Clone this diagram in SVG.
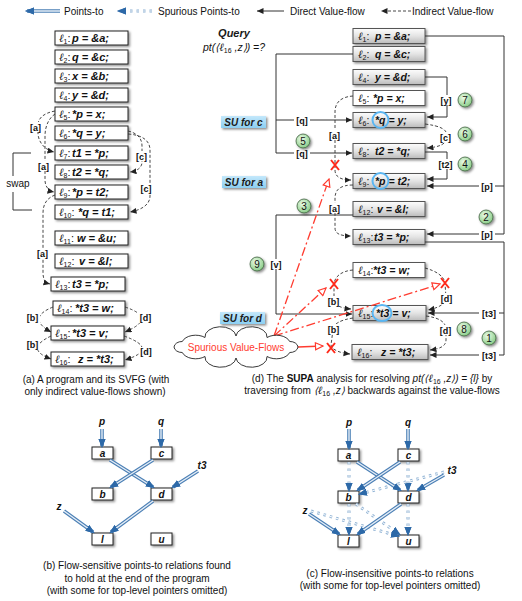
<svg xmlns="http://www.w3.org/2000/svg" width="522" height="601" viewBox="0 0 522 601">
<defs>
<filter id="sh" x="-20%" y="-40%" width="150%" height="200%"><feDropShadow dx="1.5" dy="1.5" stdDeviation="1" flood-color="#000" flood-opacity="0.45"/></filter>
<linearGradient id="gg" x1="0" y1="0" x2="0" y2="1"><stop offset="0" stop-color="#fdfdfd"/><stop offset="0.5" stop-color="#e4e4e4"/><stop offset="1" stop-color="#bcbcbc"/></linearGradient>
<radialGradient id="gc" cx="0.4" cy="0.35" r="0.7"><stop offset="0" stop-color="#ecfbe8"/><stop offset="1" stop-color="#84ca82"/></radialGradient>
<linearGradient id="bl" x1="0" y1="0" x2="0" y2="1"><stop offset="0" stop-color="#c4e8fb"/><stop offset="1" stop-color="#8ccff2"/></linearGradient>
<marker id="ah" markerUnits="userSpaceOnUse" markerWidth="8" markerHeight="7" refX="6.5" refY="3" orient="auto"><path d="M0,0 L6.5,3 L0,6 z" fill="#222"/></marker>
<marker id="pa" markerUnits="userSpaceOnUse" markerWidth="10" markerHeight="8" refX="7" refY="4" orient="auto"><path d="M0,0.5 L9,4 L0,7.5 z" fill="#2d69a8"/></marker>
<marker id="ra" markerUnits="userSpaceOnUse" markerWidth="10" markerHeight="9" refX="8.5" refY="4.5" orient="auto"><path d="M1,1 L8.5,4.5 L1,8 z" fill="#fff" stroke="#ff3b2f" stroke-width="1.2"/></marker>
<style>
.bx{fill:#fff;stroke:#222;stroke-width:1;filter:url(#sh)}
.gb{fill:url(#gg);stroke:#555;stroke-width:1;filter:url(#sh)}
.wb{fill:#fff;stroke:#555;stroke-width:1;filter:url(#sh)}
.c{font-family:"Liberation Sans",Arial,sans-serif;font-weight:bold;font-style:italic;font-size:10.5px;fill:#111}
.ca{font-size:11px}
.e{font-family:"Liberation Serif","DejaVu Serif",serif;font-weight:normal;font-style:italic;font-size:11px}
.s{font-family:"Liberation Sans",sans-serif;font-weight:normal;font-style:normal;font-size:7px}
.n{font-weight:normal;font-style:normal}
.lb{font-family:"Liberation Sans",Arial,sans-serif;font-weight:bold;font-size:9px;fill:#111;text-anchor:middle}
.bg{fill:#fff}
.t{font-family:"Liberation Sans",Arial,sans-serif;font-size:10px;fill:#111}
.dv{fill:none;stroke:#333;stroke-width:1;marker-end:url(#ah)}
.ln{fill:none;stroke:#333;stroke-width:1}
.iv{fill:none;stroke:#333;stroke-width:0.9;stroke-dasharray:3 2;marker-end:url(#ah)}
.po{fill:none;stroke:#4a7fb5;stroke-width:3.6;marker-end:url(#pa)}
.pi{fill:none;stroke:#e6eef7;stroke-width:1.4;marker-end:url(#pa)}
.so{fill:none;stroke:#8eb1d3;stroke-width:3;stroke-dasharray:2.5 4;marker-end:url(#pa)}
.si{fill:none;stroke:#f4f8fc;stroke-width:1.1;stroke-dasharray:2.5 4;marker-end:url(#pa)}
.rl{fill:none;stroke:#ff3b2f;stroke-width:1.3;stroke-dasharray:9 3 2 3;marker-end:url(#ra)}
.rx{fill:none;stroke:#ff2a1a;stroke-width:2}
.gcir{fill:url(#gc);stroke:#3d5e3d;stroke-width:0.8;filter:url(#sh)}
.gn{font-family:"Liberation Sans",Arial,sans-serif;font-size:10px;fill:#111;text-anchor:middle}
.hc{fill:none;stroke:#5ab6f2;stroke-width:2}
.su{fill:url(#bl);filter:url(#sh)}
.sut{font-family:"Liberation Sans",Arial,sans-serif;font-weight:bold;font-style:italic;font-size:10px;fill:#1a1a1a;text-anchor:middle}
.sb{fill:#fff;stroke:#222;stroke-width:1;filter:url(#sh)}
.st{font-family:"Liberation Sans",Arial,sans-serif;font-weight:bold;font-style:italic;font-size:10px;fill:#111;text-anchor:middle}
</style>
</defs>
<rect width="522" height="601" fill="#fff"/>

<!-- legend -->
<g id="legend">
<path class="po" d="M60,11 H27"/><path class="pi" d="M60,11 H27"/>
<text class="t" x="64" y="15">Points-to</text>
<path class="so" d="M152,11 H119"/><path class="si" d="M152,11 H119"/>
<text class="t" x="158" y="15">Spurious Points-to</text>
<path class="dv" d="M284,11 H257"/>
<text class="t" x="290" y="15">Direct Value-flow</text>
<path class="iv" d="M411,11 H381"/>
<text class="t" x="412" y="15">Indirect Value-flow</text>
</g>

<!-- panel a nodes -->
<g id="a-l1"><rect class="bx" x="55" y="31" width="73" height="14"/><text class="c ca" x="59" y="41.5"><tspan class="e">ℓ</tspan><tspan class="s" dy="2">1</tspan><tspan class="n" dy="-2">:</tspan><tspan x="72">p = &amp;a;</tspan></text></g>
<g id="a-l2"><rect class="bx" x="55" y="50" width="73" height="14"/><text class="c ca" x="59" y="60.5"><tspan class="e">ℓ</tspan><tspan class="s" dy="2">2</tspan><tspan class="n" dy="-2">:</tspan><tspan x="72">q = &amp;c;</tspan></text></g>
<g id="a-l3"><rect class="bx" x="55" y="69" width="73" height="14"/><text class="c ca" x="59" y="79.5"><tspan class="e">ℓ</tspan><tspan class="s" dy="2">3</tspan><tspan class="n" dy="-2">:</tspan><tspan x="72">x = &amp;b;</tspan></text></g>
<g id="a-l4"><rect class="bx" x="55" y="88" width="73" height="14"/><text class="c ca" x="59" y="98.5"><tspan class="e">ℓ</tspan><tspan class="s" dy="2">4</tspan><tspan class="n" dy="-2">:</tspan><tspan x="72">y = &amp;d;</tspan></text></g>
<g id="a-l5"><rect class="bx" x="55" y="107" width="73" height="14"/><text class="c ca" x="59" y="117.5"><tspan class="e">ℓ</tspan><tspan class="s" dy="2">5</tspan><tspan class="n" dy="-2">:</tspan><tspan x="72">*p = x;</tspan></text></g>
<g id="a-l6"><rect class="bx" x="55" y="126" width="73" height="14"/><text class="c ca" x="59" y="136.5"><tspan class="e">ℓ</tspan><tspan class="s" dy="2">6</tspan><tspan class="n" dy="-2">:</tspan><tspan x="72">*q = y;</tspan></text></g>
<g id="a-l7"><rect class="bx" x="55" y="146" width="73" height="14"/><text class="c ca" x="59" y="156.5"><tspan class="e">ℓ</tspan><tspan class="s" dy="2">7</tspan><tspan class="n" dy="-2">:</tspan><tspan x="72">t1 = *p;</tspan></text></g>
<g id="a-l8"><rect class="bx" x="55" y="165" width="73" height="14"/><text class="c ca" x="59" y="175.5"><tspan class="e">ℓ</tspan><tspan class="s" dy="2">8</tspan><tspan class="n" dy="-2">:</tspan><tspan x="72">t2 = *q;</tspan></text></g>
<g id="a-l9"><rect class="bx" x="55" y="185" width="73" height="14"/><text class="c ca" x="59" y="195.5"><tspan class="e">ℓ</tspan><tspan class="s" dy="2">9</tspan><tspan class="n" dy="-2">:</tspan><tspan x="72">*p = t2;</tspan></text></g>
<g id="a-l10"><rect class="bx" x="55" y="205" width="73" height="14"/><text class="c ca" x="59" y="215.5"><tspan class="e">ℓ</tspan><tspan class="s" dy="2">10</tspan><tspan class="n" dy="-2">:</tspan><tspan x="78">*q = t1;</tspan></text></g>
<g id="a-l11"><rect class="bx" x="55" y="231" width="73" height="14"/><text class="c ca" x="59" y="241.5"><tspan class="e">ℓ</tspan><tspan class="s" dy="2">11</tspan><tspan class="n" dy="-2">:</tspan><tspan x="77">w = &amp;u;</tspan></text></g>
<g id="a-l12"><rect class="bx" x="55" y="254" width="73" height="14"/><text class="c ca" x="59" y="264.5"><tspan class="e">ℓ</tspan><tspan class="s" dy="2">12</tspan><tspan class="n" dy="-2">:</tspan><tspan x="79">v = &amp;l;</tspan></text></g>
<g id="a-l13"><rect class="bx" x="51" y="277" width="74" height="14"/><text class="c ca" x="55" y="287.5"><tspan class="e">ℓ</tspan><tspan class="s" dy="2">13</tspan><tspan class="n" dy="-2">:</tspan><tspan x="72">t3 = *p;</tspan></text></g>
<g id="a-l14"><rect class="bx" x="53" y="301" width="72" height="14"/><text class="c ca" x="57" y="311.5"><tspan class="e">ℓ</tspan><tspan class="s" dy="2">14</tspan><tspan class="n" dy="-2">:</tspan><tspan x="75">*t3 = w;</tspan></text></g>
<g id="a-l15"><rect class="bx" x="51" y="326" width="73" height="14"/><text class="c ca" x="55" y="336.5"><tspan class="e">ℓ</tspan><tspan class="s" dy="2">15</tspan><tspan class="n" dy="-2">:</tspan><tspan x="72">*t3 = v;</tspan></text></g>
<g id="a-l16"><rect class="bx" x="51" y="352" width="73" height="14"/><text class="c ca" x="55" y="362.5"><tspan class="e">ℓ</tspan><tspan class="s" dy="2">16</tspan><tspan class="n" dy="-2">:</tspan><tspan x="78">z = *t3;</tspan></text></g>

<!-- panel a connectors -->
<g id="a-edges">
<path class="iv" d="M55,111 C44,113 38,118 38,125 L38,133 C38,142 45,150 54,152"/>
<path class="iv" d="M55,114 C49,118 45,126 45,136 L45,180 C45,187 49,191 54,192"/>
<path class="iv" d="M55,195 C47,198 43,204 43,213 L43,273 C43,280 46,283 50,284"/>
<path class="iv" d="M128,131 C137,133 142,138 142,146 L142,162 C142,167 138,171 130,172"/>
<path class="iv" d="M128,134 C143,135 150,141 150,150 L150,196 C150,205 141,210 130,212"/>
<path class="iv" d="M53,307 Q26,318 51,332"/>
<path class="iv" d="M51,336 Q24,349 51,359"/>
<path class="iv" d="M125,307 Q158,318 125,332"/>
<path class="iv" d="M124,336 Q160,349 125,360"/>
<rect class="bg" x="28" y="122" width="15" height="10"/><text class="lb" x="35.5" y="130.5">[a]</text>
<rect class="bg" x="36" y="161" width="15" height="10"/><text class="lb" x="43.5" y="169.5">[a]</text>
<rect class="bg" x="35" y="248" width="15" height="10"/><text class="lb" x="42.5" y="256.5">[a]</text>
<rect class="bg" x="134" y="151" width="15" height="10"/><text class="lb" x="141.5" y="159.5">[c]</text>
<rect class="bg" x="139" y="183" width="15" height="10"/><text class="lb" x="146" y="191.5">[c]</text>
<rect class="bg" x="25" y="313" width="15" height="10"/><text class="lb" x="32.5" y="321">[b]</text>
<rect class="bg" x="25" y="340" width="15" height="10"/><text class="lb" x="32.5" y="348">[b]</text>
<rect class="bg" x="138" y="313" width="15" height="10"/><text class="lb" x="145.5" y="321">[d]</text>
<rect class="bg" x="139" y="347" width="15" height="10"/><text class="lb" x="146" y="355">[d]</text>
<path class="ln" d="M31,153 H13 V176 M13,192 V210 H32"/>
<text class="t" x="18" y="187" text-anchor="middle">swap</text>
</g>
<text class="t" x="96" y="383" text-anchor="middle">(a) A program and its SVFG (with</text>
<text class="t" x="95" y="395" text-anchor="middle">only indirect value-flows shown)</text>

<!-- panel d -->
<g id="query">
<text class="sut" x="234" y="37" style="font-size:11px">Query</text>
<text class="t" x="234" y="51" text-anchor="middle" style="font-style:italic;font-size:10.5px">pt(⟨<tspan class="e">ℓ</tspan><tspan class="s" dy="2">16</tspan><tspan dy="-2"> ,z⟩) =?</tspan></text>
</g>
<g id="su-c"><rect class="su" x="221" y="116" width="45" height="12"/><text class="sut" x="243.5" y="125.5">SU for c</text></g>
<g id="su-a"><rect class="su" x="222" y="176" width="44" height="12"/><text class="sut" x="244" y="185.5">SU for a</text></g>
<g id="su-d"><rect class="su" x="220" y="312" width="45" height="12"/><text class="sut" x="242.5" y="321.5">SU for d</text></g>

<g id="d-l1"><rect class="gb" x="353" y="28.5" width="72" height="15"/><text class="c" x="358" y="39.8"><tspan class="e">ℓ</tspan><tspan class="s" dy="2">1</tspan><tspan class="n" dy="-2">:</tspan><tspan x="375">p = &amp;a;</tspan></text></g>
<g id="d-l2"><rect class="gb" x="353" y="46.5" width="72" height="15"/><text class="c" x="358" y="57.8"><tspan class="e">ℓ</tspan><tspan class="s" dy="2">2</tspan><tspan class="n" dy="-2">:</tspan><tspan x="375">q = &amp;c;</tspan></text></g>
<g id="d-l4"><rect class="gb" x="353" y="69.5" width="72" height="15"/><text class="c" x="358" y="80.8"><tspan class="e">ℓ</tspan><tspan class="s" dy="2">4</tspan><tspan class="n" dy="-2">:</tspan><tspan x="375">y = &amp;d;</tspan></text></g>
<g id="d-l5"><rect class="wb" x="353" y="90.5" width="72" height="15"/><text class="c" x="358" y="101.8"><tspan class="e">ℓ</tspan><tspan class="s" dy="2">5</tspan><tspan class="n" dy="-2">:</tspan><tspan x="373">*p = x;</tspan></text></g>
<g id="d-l6"><rect class="gb" x="353" y="112.5" width="72" height="15"/><text class="c" x="358" y="123.8"><tspan class="e">ℓ</tspan><tspan class="s" dy="2">6</tspan><tspan class="n" dy="-2">:</tspan><tspan x="375">*q = y;</tspan></text><circle class="hc" cx="380.5" cy="120" r="8"/></g>
<g id="d-l8"><rect class="gb" x="353" y="143.5" width="72" height="15"/><text class="c" x="358" y="154.8"><tspan class="e">ℓ</tspan><tspan class="s" dy="2">8</tspan><tspan class="n" dy="-2">:</tspan><tspan x="375">t2 = *q;</tspan></text></g>
<g id="d-l9"><rect class="gb" x="353" y="173.5" width="72" height="15"/><text class="c" x="358" y="184.8"><tspan class="e">ℓ</tspan><tspan class="s" dy="2">9</tspan><tspan class="n" dy="-2">:</tspan><tspan x="375">*p = t2;</tspan></text><circle class="hc" cx="380.5" cy="181" r="8"/></g>
<g id="d-l12"><rect class="gb" x="353" y="201.5" width="72" height="15"/><text class="c" x="358" y="212.8"><tspan class="e">ℓ</tspan><tspan class="s" dy="2">12</tspan><tspan class="n" dy="-2">:</tspan><tspan x="377">v = &amp;l;</tspan></text></g>
<g id="d-l13"><rect class="gb" x="353" y="229.5" width="72" height="15"/><text class="c" x="358" y="240.8"><tspan class="e">ℓ</tspan><tspan class="s" dy="2">13</tspan><tspan class="n" dy="-2">:</tspan><tspan x="374">t3 = *p;</tspan></text></g>
<g id="d-l14"><rect class="wb" x="353" y="262.5" width="72" height="15"/><text class="c" x="358" y="273.8"><tspan class="e">ℓ</tspan><tspan class="s" dy="2">14</tspan><tspan class="n" dy="-2">:</tspan><tspan x="373">*t3 = w;</tspan></text></g>
<g id="d-l15"><rect class="gb" x="353" y="305.5" width="73" height="15"/><text class="c" x="358" y="316.8"><tspan class="e">ℓ</tspan><tspan class="s" dy="2">15</tspan><tspan class="n" dy="-2">:</tspan><tspan x="376">*t3 = v;</tspan></text><ellipse class="hc" cx="382" cy="313" rx="9.5" ry="8"/></g>
<g id="d-l16"><rect class="gb" x="352" y="344.5" width="76" height="15"/><text class="c" x="357" y="355.8"><tspan class="e">ℓ</tspan><tspan class="s" dy="2">16</tspan><tspan class="n" dy="-2">:</tspan><tspan x="381">z = *t3;</tspan></text></g>

<g id="d-edges">
<path class="dv" d="M425,36 H504 V234 H427"/>
<path class="dv" d="M504,186 H427"/>
<path class="dv" d="M353,54 H276 V153 H352"/>
<path class="dv" d="M276,120 H352"/>
<path class="dv" d="M425,77 H447 V117 H427"/>
<path class="dv" d="M425,152 H447 V179 H427"/>
<path class="dv" d="M353,215 H276 V314 H352"/>
<path class="dv" d="M425,242 H504 V355 H430"/>
<path class="dv" d="M504,313 H428"/>
<path class="iv" d="M425,124 C440,126 447,129 447,136 C447,144 440,147 427,148"/>
<path class="iv" d="M353,96 C339,97 335,104 335,112 L335,170 C335,177 341,180 351,180"/>
<path class="iv" d="M353,185 C340,185 335,190 335,198 L335,228 C335,234 341,236 351,236"/>
<path class="iv" d="M353,270 C341,271 334,277 334,285 L334,300 C334,305 340,308 351,309"/>
<path class="iv" d="M425,268 C436,271 444,276 445,283 L446,298 C446,304 438,308 428,310"/>
<path class="iv" d="M353,318 C340,320 333,324 333,330 L331,345 C332,350 340,353 350,354"/>
<path class="iv" d="M426,316 C440,318 446,322 446,330 L446,340 C446,346 440,349 430,350"/>
<rect class="bg" x="479" y="181" width="16" height="10"/><text class="lb" x="487" y="189.5">[p]</text>
<rect class="bg" x="479" y="229" width="16" height="10"/><text class="lb" x="487" y="237.5">[p]</text>
<rect class="bg" x="294" y="115" width="16" height="10"/><text class="lb" x="302" y="123.5">[q]</text>
<rect class="bg" x="294" y="148" width="16" height="10"/><text class="lb" x="302" y="156.5">[q]</text>
<rect class="bg" x="438" y="95" width="16" height="10"/><text class="lb" x="446" y="103.5">[y]</text>
<rect class="bg" x="438" y="132" width="15" height="10"/><text class="lb" x="445.5" y="140.5">[c]</text>
<rect class="bg" x="436" y="159" width="19" height="10"/><text class="lb" x="445.5" y="167.5">[t2]</text>
<rect class="bg" x="327" y="130" width="15" height="10"/><text class="lb" x="334.5" y="138.5">[a]</text>
<rect class="bg" x="327" y="203" width="15" height="10"/><text class="lb" x="334.5" y="211.5">[a]</text>
<rect class="bg" x="268" y="259" width="16" height="10"/><text class="lb" x="276" y="267.5">[v]</text>
<rect class="bg" x="326" y="296" width="15" height="10"/><text class="lb" x="333.5" y="304.5">[b]</text>
<rect class="bg" x="326" y="324" width="15" height="10"/><text class="lb" x="333.5" y="332.5">[b]</text>
<rect class="bg" x="439" y="293" width="15" height="10"/><text class="lb" x="446.5" y="301.5">[d]</text>
<rect class="bg" x="438" y="325" width="15" height="10"/><text class="lb" x="445.5" y="333.5">[d]</text>
<rect class="bg" x="479" y="308" width="20" height="10"/><text class="lb" x="489" y="316.5">[t3]</text>
<rect class="bg" x="479" y="350" width="20" height="10"/><text class="lb" x="489" y="358.5">[t3]</text>
</g>

<g id="steps">
<circle class="gcir" cx="465" cy="100" r="7"/><text class="gn" x="465" y="103.5">7</text>
<circle class="gcir" cx="465" cy="134" r="7"/><text class="gn" x="465" y="137.5">6</text>
<circle class="gcir" cx="465" cy="164" r="7"/><text class="gn" x="465" y="167.5">4</text>
<circle class="gcir" cx="303" cy="141" r="7"/><text class="gn" x="303" y="144.5">5</text>
<circle class="gcir" cx="304" cy="206" r="7"/><text class="gn" x="304" y="209.5">3</text>
<circle class="gcir" cx="486" cy="217" r="7"/><text class="gn" x="486" y="220.5">2</text>
<circle class="gcir" cx="257" cy="264" r="7"/><text class="gn" x="257" y="267.5">9</text>
<circle class="gcir" cx="464" cy="329" r="7"/><text class="gn" x="464" y="332.5">8</text>
<circle class="gcir" cx="489" cy="338" r="7"/><text class="gn" x="489" y="341.5">1</text>
</g>

<g id="spurious">
<path class="rl" d="M274,336 L329,179"/>
<path class="rl" d="M274,336 L326,288"/>
<path class="rl" d="M274,336 L440,284"/>
<path d="M298,347 L323,346" fill="none" stroke="#ff3b2f" stroke-width="1.3" marker-end="url(#ra)"/>
<path class="rx" d="M331,160 L339,170 M339,160 L331,170"/>
<path class="rx" d="M330,279 L338,289 M338,279 L330,289"/>
<path class="rx" d="M441,278 L449,288 M449,278 L441,288"/>
<path class="rx" d="M327,343 L335,353 M335,343 L327,353"/>
</g>
<g id="cloud">
<path d="M236,336 A14,9 0 0 1 267,337.5 A14,9 0 0 1 289.7,341.5 A8,6 0 0 1 298,347 A8,6 0 0 1 289.7,352.5 A14,9 0 0 1 267,356.5 A14,9 0 0 1 236,358 A14,9 0 0 1 205,356.5 A14,9 0 0 1 182.3,352.5 A8,6 0 0 1 174,347 A8,6 0 0 1 182.3,341.5 A14,9 0 0 1 205,337.5 A14,9 0 0 1 236,336 z" fill="#fff" stroke="#222" stroke-width="0.9"/>
<text class="t" x="236" y="350.5" text-anchor="middle" style="fill:#ff3b2f">Spurious Value-Flows</text>
</g>
<text class="t" x="372" y="382" text-anchor="middle">(d) The <tspan font-weight="bold">SUPA</tspan> analysis for resolving  <tspan font-style="italic">pt(⟨<tspan class="e">ℓ</tspan><tspan class="s" dy="2">16</tspan><tspan dy="-2"> ,z⟩) = {l}</tspan></tspan> by</text>
<text class="t" x="372" y="394" text-anchor="middle">traversing from <tspan font-style="italic">⟨<tspan class="e">ℓ</tspan><tspan class="s" dy="2">16</tspan><tspan dy="-2"> ,z⟩</tspan></tspan> backwards against the value-flows</text>

<!-- panel b -->
<g id="b-nodes">
<g id="b-a"><rect class="sb" x="92" y="447" width="21" height="12"/><text class="st" x="102.5" y="457">a</text></g>
<g id="b-c"><rect class="sb" x="151" y="447" width="21" height="12"/><text class="st" x="161.5" y="457">c</text></g>
<g id="b-b"><rect class="sb" x="92" y="488" width="21" height="12"/><text class="st" x="102.5" y="498">b</text></g>
<g id="b-d"><rect class="sb" x="151" y="488" width="21" height="12"/><text class="st" x="161.5" y="498">d</text></g>
<g id="b-l"><rect class="sb" x="92" y="533" width="21" height="12"/><text class="st" x="102.5" y="543">l</text></g>
<g id="b-u"><rect class="sb" x="151" y="533" width="21" height="12"/><text class="st" x="161.5" y="543">u</text></g>
<text class="st" x="102" y="425">p</text>
<text class="st" x="161" y="425">q</text>
<text class="st" x="202" y="469">t3</text>
<text class="st" x="59" y="510">z</text>
</g>
<g id="b-edges">
<path class="po" d="M102,429 L102,446"/><path class="pi" d="M102,429 L102,446"/>
<path class="po" d="M161,429 L161,446"/><path class="pi" d="M161,429 L161,446"/>
<path class="po" d="M110,460 L153,487"/><path class="pi" d="M110,460 L153,487"/>
<path class="po" d="M153,460 L111,487"/><path class="pi" d="M153,460 L111,487"/>
<path class="po" d="M198,471 L173,487"/><path class="pi" d="M198,471 L173,487"/>
<path class="po" d="M64,511 L93,532"/><path class="pi" d="M64,511 L93,532"/>
<path class="po" d="M153,501 L111,532"/><path class="pi" d="M153,501 L111,532"/>
</g>
<text class="t" x="137" y="569" text-anchor="middle">(b) Flow-sensitive points-to relations found</text>
<text class="t" x="137" y="582" text-anchor="middle">to hold at the end of the program</text>
<text class="t" x="137" y="594" text-anchor="middle">(with some for top-level pointers omitted)</text>

<!-- panel c -->
<g id="c-nodes">
<g id="c-a"><rect class="sb" x="338" y="449" width="21" height="12"/><text class="st" x="348.5" y="459">a</text></g>
<g id="c-c"><rect class="sb" x="398" y="449" width="21" height="12"/><text class="st" x="408.5" y="459">c</text></g>
<g id="c-b"><rect class="sb" x="338" y="491" width="21" height="12"/><text class="st" x="348.5" y="501">b</text></g>
<g id="c-d"><rect class="sb" x="398" y="491" width="21" height="12"/><text class="st" x="408.5" y="501">d</text></g>
<g id="c-l"><rect class="sb" x="338" y="535" width="21" height="12"/><text class="st" x="348.5" y="545">l</text></g>
<g id="c-u"><rect class="sb" x="398" y="535" width="21" height="12"/><text class="st" x="408.5" y="545">u</text></g>
<text class="st" x="349" y="426">p</text>
<text class="st" x="408" y="426">q</text>
<text class="st" x="452" y="474">t3</text>
<text class="st" x="305" y="514">z</text>
</g>
<g id="c-edges">
<path class="so" d="M349,462 L349,490"/><path class="si" d="M349,462 L349,490"/>
<path class="so" d="M408,462 L408,490"/><path class="si" d="M408,462 L408,490"/>
<path class="so" d="M444,472 L360,494"/><path class="si" d="M444,472 L360,494"/>
<path class="so" d="M349,504 L349,534"/><path class="si" d="M349,504 L349,534"/>
<path class="so" d="M356,504 L399,534"/><path class="si" d="M356,504 L399,534"/>
<path class="so" d="M311,511 L398,536"/><path class="si" d="M311,511 L398,536"/>
<path class="so" d="M408,504 L408,534"/><path class="si" d="M408,504 L408,534"/>
<path class="po" d="M349,429 L349,448"/><path class="pi" d="M349,429 L349,448"/>
<path class="po" d="M408,429 L408,448"/><path class="pi" d="M408,429 L408,448"/>
<path class="po" d="M357,462 L400,490"/><path class="pi" d="M357,462 L400,490"/>
<path class="po" d="M400,462 L358,490"/><path class="pi" d="M400,462 L358,490"/>
<path class="po" d="M444,475 L418,490"/><path class="pi" d="M444,475 L418,490"/>
<path class="po" d="M309,514 L339,534"/><path class="pi" d="M309,514 L339,534"/>
<path class="po" d="M401,504 L358,534"/><path class="pi" d="M401,504 L358,534"/>
</g>
<text class="t" x="390" y="577" text-anchor="middle">(c) Flow-insensitive points-to relations</text>
<text class="t" x="390" y="589" text-anchor="middle">(with some for top-level pointers omitted)</text>
</svg>
